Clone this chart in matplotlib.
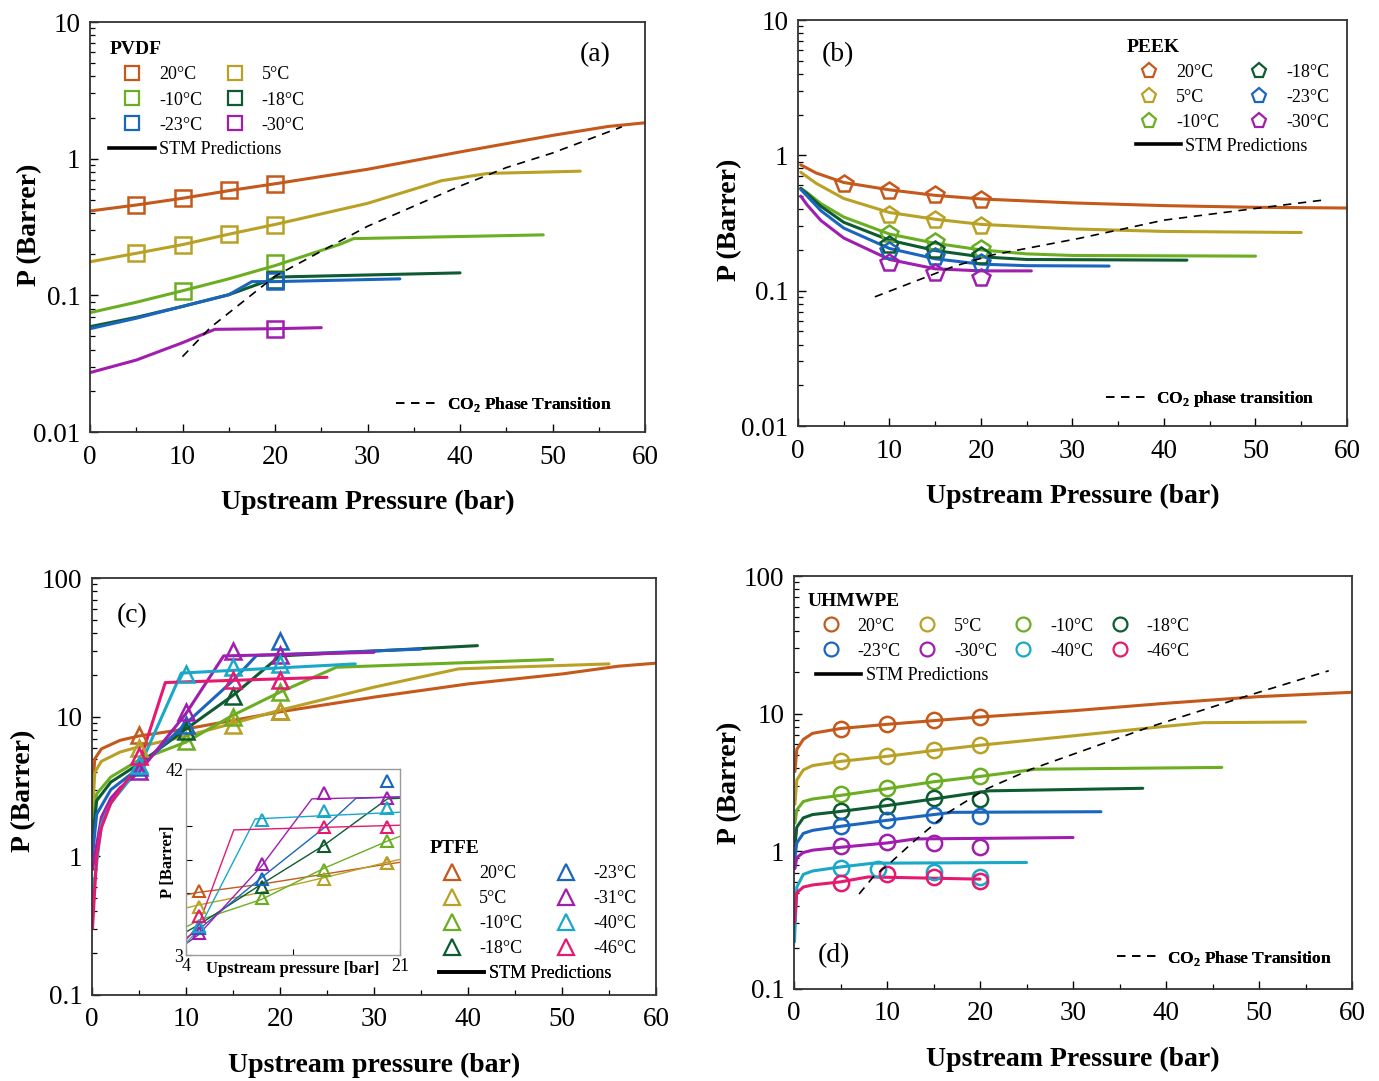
import matplotlib
matplotlib.use('Agg')
import matplotlib.pyplot as plt
from matplotlib.lines import Line2D
from matplotlib.ticker import MultipleLocator, FuncFormatter, NullLocator, FixedLocator

plt.rcParams['font.family'] = ['Liberation Serif', 'DejaVu Serif']
plt.rcParams['mathtext.fontset'] = 'custom'
plt.rcParams['mathtext.rm'] = 'Liberation Serif'
plt.rcParams['mathtext.bf'] = 'Liberation Serif:bold'

# ---------------- colours per temperature ----------------
COL = {'20°C': '#C4591B', '5°C': '#B9A126', '-10°C': '#6BAE22', '-18°C': '#0E5B32',
       '-23°C': '#1A66BE', '-30°C': '#A01DAE', '-31°C': '#A01DAE', '-40°C': '#1AA8C8',
       '-46°C': '#E5196F'}

# ---------------- (a) PVDF ----------------
a_marks = {
    '20°C': ([5, 10, 15, 20], [0.458, 0.513, 0.586, 0.656]),
    '5°C': ([5, 10, 15, 20], [0.203, 0.232, 0.283, 0.329]),
    '-10°C': ([10, 20], [0.107, 0.171]),
    '-18°C': ([20], [0.13]),
    '-23°C': ([20], [0.127]),
    '-30°C': ([20], [0.057]),
}
a_lines = {
    '20°C': ([0, 5, 10, 15, 20, 30, 40, 50, 56, 60], [0.414, 0.458, 0.513, 0.583, 0.655, 0.836, 1.12, 1.48, 1.72, 1.83]),
    '5°C': ([0, 5, 10, 15, 20, 30, 38, 43, 53], [0.176, 0.203, 0.235, 0.280, 0.330, 0.471, 0.69, 0.78, 0.81]),
    '-10°C': ([0, 5, 10, 15, 20, 27, 28.5, 49], [0.0747, 0.089, 0.108, 0.132, 0.165, 0.236, 0.26, 0.277]),
    '-18°C': ([0, 5, 10, 15, 19.5, 20, 40], [0.059, 0.069, 0.083, 0.101, 0.130, 0.136, 0.146]),
    '-23°C': ([0, 5, 10, 15, 17.5, 20, 33.5], [0.057, 0.068, 0.083, 0.101, 0.126, 0.126, 0.132]),
    '-30°C': ([0, 5, 10, 13.5, 20, 25], [0.0272, 0.0336, 0.045, 0.0564, 0.057, 0.058]),
}
a_phase_x = [10, 13, 20, 30, 40, 45, 50, 57.5]
a_phase_y = [0.0356, 0.058, 0.138, 0.32, 0.63, 0.86, 1.1, 1.71]

# ---------------- (b) PEEK ----------------
b_marks = {
    '20°C': ([5, 10, 15, 20], [0.614, 0.541, 0.506, 0.470]),
    '5°C': ([10, 15, 20], [0.364, 0.334, 0.302]),
    '-10°C': ([10, 15, 20], [0.263, 0.227, 0.202]),
    '-18°C': ([10, 15, 20], [0.218, 0.200, 0.181]),
    '-23°C': ([10, 15, 20], [0.198, 0.176, 0.161]),
    '-30°C': ([10, 15, 20], [0.161, 0.136, 0.124]),
}
b_lines = {
    '20°C': ([0.3, 2, 5, 10, 15, 20, 30, 40, 50, 60], [0.85, 0.74, 0.63, 0.556, 0.506, 0.476, 0.445, 0.425, 0.413, 0.408]),
    '5°C': ([0.3, 2, 5, 10, 15, 20, 30, 40, 55], [0.75, 0.62, 0.48, 0.378, 0.337, 0.309, 0.286, 0.274, 0.269]),
    '-10°C': ([0.3, 1, 2.5, 5, 10, 15, 20, 25, 30, 50], [0.57, 0.53, 0.44, 0.35, 0.262, 0.224, 0.200, 0.187, 0.182, 0.180]),
    '-18°C': ([0.3, 1, 2.5, 5, 10, 15, 20, 25, 42.5], [0.57, 0.52, 0.42, 0.32, 0.236, 0.198, 0.178, 0.170, 0.168]),
    '-23°C': ([0.3, 1, 2.5, 5, 10, 15, 20, 25, 34], [0.56, 0.50, 0.39, 0.29, 0.205, 0.172, 0.157, 0.153, 0.152]),
    '-30°C': ([0.3, 1, 2.5, 5, 10, 15, 20, 25.5], [0.50, 0.43, 0.33, 0.245, 0.170, 0.145, 0.140, 0.140]),
}
b_phase_x = [8.4, 17, 21.3, 30.8, 40, 50, 57.5]
b_phase_y = [0.090, 0.151, 0.184, 0.244, 0.332, 0.405, 0.468]

# ---------------- (c) PTFE ----------------
c_marks = {
    '20°C': ([5, 20], [7.4, 11.0]),
    '5°C': ([5, 15, 20], [5.96, 8.8, 11.0]),
    '-10°C': ([10, 15, 20], [6.7, 10.0, 15.2]),
    '-18°C': ([10, 15], [7.9, 14.1]),
    '-23°C': ([5, 10, 20], [4.4, 8.8, 35.2]),
    '-31°C': ([5, 10, 15, 20], [4.1, 10.9, 29.9, 27.8]),
    '-40°C': ([5, 10, 15, 20], [4.5, 20.4, 23.0, 24.1]),
    '-46°C': ([5, 15, 20], [5.2, 18.4, 18.4]),
}
c_lines = {
    '20°C': ([0.05, 0.3, 1, 3, 5, 10, 20, 30, 40, 50, 56, 60], [3.0, 5.0, 5.9, 6.8, 7.3, 8.2, 10.9, 13.9, 17.3, 20.4, 23.2, 24.4]),
    '5°C': ([0.05, 0.3, 1, 3, 5, 10, 15, 20, 30, 39, 55], [2.0, 4.0, 4.8, 5.6, 6.1, 7.3, 9.0, 11.2, 16.4, 22.2, 24.1]),
    '-10°C': ([0.05, 0.5, 2, 5, 10, 15, 20, 26, 49], [1.6, 2.8, 3.7, 4.9, 6.6, 10.3, 15.1, 22.8, 25.9]),
    '-18°C': ([0.05, 0.5, 2, 5, 10, 15, 20, 41], [1.3, 2.5, 3.4, 4.6, 8.2, 14.3, 27.5, 32.6]),
    '-23°C': ([0.05, 0.5, 2, 5, 10, 15, 17.5, 35], [1.0, 2.0, 3.0, 4.3, 9.0, 18.3, 27.7, 30.8]),
    '-31°C': ([0.05, 1, 2, 3, 5, 10, 14, 30], [0.8, 1.9, 2.6, 3.1, 4.0, 10.6, 27.5, 29.2]),
    '-40°C': ([0.05, 1, 2, 5, 9.5, 28], [0.5, 1.7, 2.4, 4.3, 20.7, 24.1]),
    '-46°C': ([0.05, 0.5, 1, 2, 3, 5, 7.8, 25], [0.3, 1.0, 1.6, 2.4, 3.0, 4.6, 17.7, 19.3]),
}

# ---------------- (d) UHMWPE ----------------
d_marks = {
    '20°C': ([5, 10, 15, 20], [7.79, 8.37, 8.95, 9.46]),
    '5°C': ([5, 10, 15, 20], [4.55, 4.94, 5.43, 5.93]),
    '-10°C': ([5, 10, 15, 20], [2.61, 2.89, 3.26, 3.54]),
    '-18°C': ([5, 10, 15, 20], [1.96, 2.15, 2.43, 2.40]),
    '-23°C': ([5, 10, 15, 20], [1.52, 1.70, 1.84, 1.82]),
    '-30°C': ([5, 10, 15, 20], [1.09, 1.16, 1.14, 1.07]),
    '-40°C': ([5, 9, 15, 20], [0.759, 0.750, 0.702, 0.652]),
    '-46°C': ([5, 10, 15, 20], [0.593, 0.690, 0.652, 0.611]),
}
d_lines = {
    '20°C': ([0.1, 0.3, 1, 2, 5, 10, 20, 30, 40, 50, 60], [3.8, 5.5, 6.5, 7.2, 7.8, 8.37, 9.46, 10.5, 11.9, 13.3, 14.3]),
    '5°C': ([0.1, 0.3, 1, 2, 5, 10, 15, 20, 30, 40, 44, 55], [2.2, 3.3, 3.9, 4.2, 4.5, 4.9, 5.4, 5.9, 6.9, 8.1, 8.6, 8.7]),
    '-10°C': ([0.1, 0.3, 1, 2, 5, 10, 15, 20, 26, 46], [1.6, 2.0, 2.3, 2.4, 2.55, 2.85, 3.2, 3.5, 3.95, 4.07]),
    '-18°C': ([0.1, 0.3, 1, 2, 5, 10, 15, 21, 37.5], [1.1, 1.5, 1.75, 1.85, 1.95, 2.15, 2.4, 2.75, 2.87]),
    '-23°C': ([0.1, 0.3, 1, 2, 5, 10, 17, 33], [0.9, 1.15, 1.35, 1.42, 1.52, 1.68, 1.92, 1.94]),
    '-30°C': ([0.1, 0.3, 1, 2, 5, 10, 13, 30], [0.75, 0.9, 0.98, 1.02, 1.07, 1.15, 1.23, 1.26]),
    '-40°C': ([0.05, 0.3, 1, 2, 5, 8.5, 25], [0.22, 0.55, 0.68, 0.72, 0.77, 0.82, 0.83]),
    '-46°C': ([0.05, 0.3, 1, 2, 5, 8, 20], [0.3, 0.5, 0.55, 0.57, 0.6, 0.652, 0.628]),
}
d_phase_x = [7, 8.5, 10.4, 13, 16.5, 20.5, 25.5, 38, 48, 57.5]
d_phase_y = [0.49, 0.65, 0.83, 1.2, 1.9, 2.8, 3.95, 7.9, 13.0, 20.5]

# ---------------- figure ----------------
W, H = 1379, 1081
fig = plt.figure(figsize=(W / 100, H / 100), dpi=100)


def add_ax(l, r, t, b):
    return fig.add_axes([l / W, 1 - b / H, (r - l) / W, (b - t) / H])


def style(ax, ylim, xlabel, ylab_xy):
    ax.set_xlim(0, 60)
    ax.set_yscale('log')
    ax.set_ylim(*ylim)
    ax.xaxis.set_major_locator(MultipleLocator(10))
    ax.xaxis.set_minor_locator(MultipleLocator(5))
    ax.yaxis.set_major_formatter(FuncFormatter(lambda v, p: f'{v:g}'))
    ax.tick_params(which='both', direction='in', top=False, right=False, labelsize=19.5)
    ax.tick_params(which='major', length=6, width=1)
    ax.tick_params(which='minor', length=3.5, width=0.9)
    ax.tick_params(axis='x', pad=9)
    ax.tick_params(axis='y', pad=7)
    for s in ax.spines.values():
        s.set_linewidth(1.3)
        s.set_color('#333333')
    ax.set_xlabel(xlabel, fontsize=20, fontweight='bold', labelpad=15)
    ax.set_ylabel('P (Barrer)', fontsize=20, fontweight='bold')
    ax.yaxis.set_label_coords(*ylab_xy)


def draw(ax, lines, marks, marker, ms, lw=2.2, mew=1.8):
    for t, (x, y) in lines.items():
        ax.plot(x, y, '-', color=COL[t], lw=lw, solid_capstyle='round', zorder=2)
    for t, (x, y) in marks.items():
        ax.plot(x, y, ls='none', marker=marker, ms=ms, mfc='none', mec=COL[t], mew=mew, zorder=3)


def temp_legend(ax, temps, marker, ms, ncol, title, anchor, colsp=0.55):
    handles = [Line2D([], [], ls='none', marker=marker, ms=ms, mfc='none', mec=COL[t], mew=1.6) for t in temps]
    leg = ax.legend(handles, temps, ncol=ncol, loc='upper left', bbox_to_anchor=anchor, frameon=False,
                    fontsize=13, title=title, title_fontproperties={'weight': 'bold', 'size': 14},
                    alignment='left', handlelength=2.5, handletextpad=0.25, columnspacing=colsp,
                    labelspacing=0.45, borderpad=0, borderaxespad=0)
    ax.add_artist(leg)


def stm_legend(ax, anchor):
    h = Line2D([], [], color='black', lw=2.6)
    leg = ax.legend([h], ['STM Predictions'], loc='upper left', bbox_to_anchor=anchor, frameon=False,
                    fontsize=13, handlelength=2.5, handletextpad=0.25, borderpad=0, borderaxespad=0)
    ax.add_artist(leg)


def phase_legend(ax, label, anchor):
    h = Line2D([], [], color='black', lw=1.2, ls=(0, (5, 4)))
    leg = ax.legend([h], [label], loc='center right', bbox_to_anchor=anchor, frameon=False,
                    prop={'weight': 'bold', 'size': 12.5}, handlelength=2.4, handletextpad=0.5,
                    borderpad=0, borderaxespad=0)
    ax.add_artist(leg)


# (a)
axa = add_ax(90, 645, 22, 432)
style(axa, (0.01, 10), 'Upstream Pressure (bar)', (-0.087, 0.505))
draw(axa, a_lines, a_marks, 's', 11)
axa.plot(a_phase_x, a_phase_y, color='black', lw=1.2, ls=(0, (5, 4)), zorder=4)
temp_legend(axa, ['20°C', '-10°C', '-23°C', '5°C', '-18°C', '-30°C'], 's', 9.5, 2, 'PVDF', (0.035, 0.953))
stm_legend(axa, (0.035, 0.71))
phase_legend(axa, r'CO$_\mathbf{2}$ Phase Transition', (0.94, 0.068))
axa.text(0.91, 0.92, '(a)', transform=axa.transAxes, fontsize=20, ha='center', va='center')

# (b)
axb = add_ax(798, 1347, 20, 426)
style(axb, (0.01, 10), 'Upstream Pressure (bar)', (-0.102, 0.507))
draw(axb, b_lines, b_marks, 'p', 13)
axb.plot(b_phase_x, b_phase_y, color='black', lw=1.2, ls=(0, (5, 4)), zorder=4)
temp_legend(axb, ['20°C', '5°C', '-10°C', '-18°C', '-23°C', '-30°C'], 'p', 11, 2, 'PEEK', (0.598, 0.953), colsp=0.95)
stm_legend(axb, (0.615, 0.71))
phase_legend(axb, r'CO$_\mathbf{2}$ phase transition', (0.94, 0.066))
axb.text(0.073, 0.914, '(b)', transform=axb.transAxes, fontsize=20, ha='center', va='center')

# (c)
axc = add_ax(92, 656, 578, 995)
style(axc, (0.1, 100), 'Upstream pressure (bar)', (-0.099, 0.49))
draw(axc, c_lines, c_marks, '^', 11.5)
temp_legend(axc, ['20°C', '5°C', '-10°C', '-18°C', '-23°C', '-31°C', '-40°C', '-46°C'], '^', 12, 2, 'PTFE',
            (0.598, 0.372), colsp=1.2)
stm_legend(axc, (0.615, 0.072))
axc.text(0.071, 0.911, '(c)', transform=axc.transAxes, fontsize=20, ha='center', va='center')

# inset
axi = add_ax(186, 400, 769, 955)
axi.set_facecolor('white')
axi.set_zorder(5)
axi.set_xlim(4, 21)
axi.set_yscale('log')
axi.set_ylim(3, 42)
axi.xaxis.set_major_locator(FixedLocator([4, 12.5, 21]))
axi.set_xticklabels(['4', '', '21'])
axi.yaxis.set_major_locator(FixedLocator([3, 7.2, 11.6, 18.6, 42]))
axi.yaxis.set_minor_locator(NullLocator())
axi.set_yticklabels(['3', '', '', '', '42'])
axi.tick_params(which='both', direction='in', labelsize=13, length=4, pad=2, top=False, right=False)
for s in axi.spines.values():
    s.set_color('#9a9a9a')
    s.set_linewidth(1.0)
for t, (x, y) in c_lines.items():
    axi.plot(x, y, '-', color=COL[t], lw=1.0, zorder=2)
for t, (x, y) in c_marks.items():
    axi.plot(x, y, ls='none', marker='^', ms=9, mfc='none', mec=COL[t], mew=1.5, zorder=3, clip_on=False)
axi.set_xlabel('Upstream pressure [bar]', fontsize=12, fontweight='bold')
axi.xaxis.set_label_coords(0.5, -0.03)
axi.set_ylabel('P [Barrer]', fontsize=12, fontweight='bold')
axi.yaxis.set_label_coords(-0.045, 0.5)

# (d)
axd = add_ax(794, 1352, 576, 989)
style(axd, (0.1, 100), 'Upstream Pressure (bar)', (-0.093, 0.499))
draw(axd, d_lines, d_marks, 'o', 11)
axd.plot(d_phase_x, d_phase_y, color='black', lw=1.2, ls=(0, (5, 4)), zorder=4)
temp_legend(axd, ['20°C', '-23°C', '5°C', '-30°C', '-10°C', '-40°C', '-18°C', '-46°C'], 'o', 10, 4, 'UHMWPE',
            (0.025, 0.96), colsp=0.2)
stm_legend(axd, (0.04, 0.779))
phase_legend(axd, r'CO$_\mathbf{2}$ Phase Transition', (0.964, 0.075))
axd.text(0.072, 0.082, '(d)', transform=axd.transAxes, fontsize=20, ha='center', va='center')

fig.savefig('out.png', dpi=100, facecolor='white')
